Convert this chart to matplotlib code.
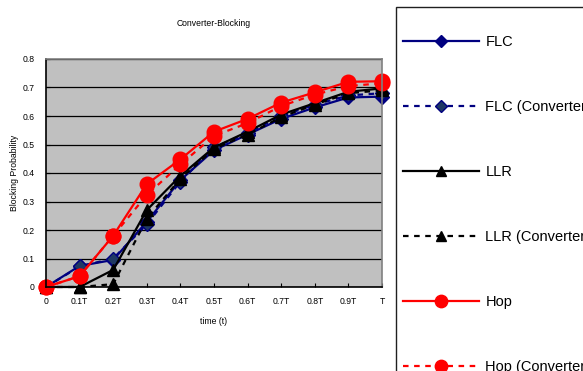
import matplotlib
matplotlib.use("Agg")
import matplotlib.pyplot as plt
from matplotlib.patches import Rectangle
import numpy as np

plt.rcParams["font.family"] = ["Liberation Sans", "DejaVu Sans"]

# Time points and their tick labels
time_labels = ["0", "0.1T", "0.2T", "0.3T", "0.4T", "0.5T", "0.6T", "0.7T", "0.8T", "0.9T", "T"]

# Blocking probability per routing scheme
flc = [0.0, 0.074, 0.095, 0.229, 0.375, 0.48, 0.535, 0.59, 0.63, 0.665, 0.668]
flc_conv = [0.0, 0.072, 0.10, 0.22, 0.37, 0.49, 0.54, 0.60, 0.64, 0.672, 0.68]
llr = [0.0, 0.0, 0.06, 0.27, 0.39, 0.49, 0.545, 0.605, 0.645, 0.685, 0.697]
llr_conv = [0.0, 0.0, 0.01, 0.24, 0.38, 0.485, 0.535, 0.596, 0.64, 0.68, 0.69]
hop = [0.0, 0.038, 0.18, 0.361, 0.448, 0.545, 0.59, 0.647, 0.683, 0.72, 0.722]
hop_conv = [0.0, 0.038, 0.18, 0.323, 0.43, 0.53, 0.575, 0.635, 0.675, 0.705, 0.715]

series_names = ["FLC", "FLC (Converter)", "LLR", "LLR (Converter)", "Hop", "Hop (Converter)"]

W, H = 583, 371
fig = plt.figure(figsize=(W / 100, H / 100), dpi=100)
ax = fig.add_axes([46 / W, 1 - 287 / H, 336 / W, 228 / H])
ax.set_facecolor("#C0C0C0")

x = np.arange(len(time_labels))
navy = "#000080"
dash = (0, (2.5, 2.5))

styles = [
    (flc, dict(color=navy, ls="-", marker="D", ms=7)),
    (flc_conv, dict(color=navy, ls=dash, marker="D", ms=7, mfc="#1F3864")),
    (llr, dict(color="black", ls="-", marker="^", ms=8.5)),
    (llr_conv, dict(color="black", ls=dash, marker="^", ms=8.5)),
    (hop, dict(color="#FF0000", ls="-", marker="o", ms=10.5)),
    (hop_conv, dict(color="#FF0000", ls=dash, marker="o", ms=10.5)),
]

handles = []
for (vals, st), name in zip(styles, series_names):
    h, = ax.plot(x, vals, lw=1.6, label=name, clip_on=False, **st)
    handles.append(h)

ax.set_xlim(0, 10)
ax.set_ylim(0, 0.8)
ax.set_xticks(x)
ax.set_xticklabels(time_labels, fontsize=6.2)
yt = np.arange(0, 0.81, 0.1)
ax.set_yticks(yt)
ax.set_yticklabels(["0"] + [f"{v:.1f}" for v in yt[1:]], fontsize=6.2)
ax.tick_params(axis="both", direction="in", length=3, width=0.8, pad=7)
ax.tick_params(axis="y", pad=8)
ax.grid(axis="y", color="black", lw=0.9)
ax.set_axisbelow(True)
for s in ax.spines.values():
    s.set_color("#808080")
    s.set_linewidth(1.2)
ax.spines["left"].set_color("black")
ax.spines["bottom"].set_color("black")

ax.set_xlabel("time (t)", fontsize=6.2, labelpad=8)
ax.set_ylabel("Blocking Probability", fontsize=6.2, labelpad=3)
fig.text(214 / W, 1 - 24 / H, "Converter-Blocking", fontsize=6.2, ha="center", va="center")

# Legend frame running past the right and bottom edges of the canvas
fig.patches.append(Rectangle((396 / W, -0.1), 0.5, 1 - 7 / H + 0.1, transform=fig.transFigure,
                             facecolor="white", edgecolor="#202020", lw=1.0, zorder=0))

leg = fig.legend(handles=handles, loc="upper left", bbox_to_anchor=(403 / W, 1 - 35 / H),
                 bbox_transform=fig.transFigure, frameon=False, fontsize=10.5,
                 handlelength=5.2, handletextpad=0.45, labelspacing=3.5,
                 borderpad=0, borderaxespad=0, markerscale=0.85)

fig.savefig("out.png", dpi=100)
